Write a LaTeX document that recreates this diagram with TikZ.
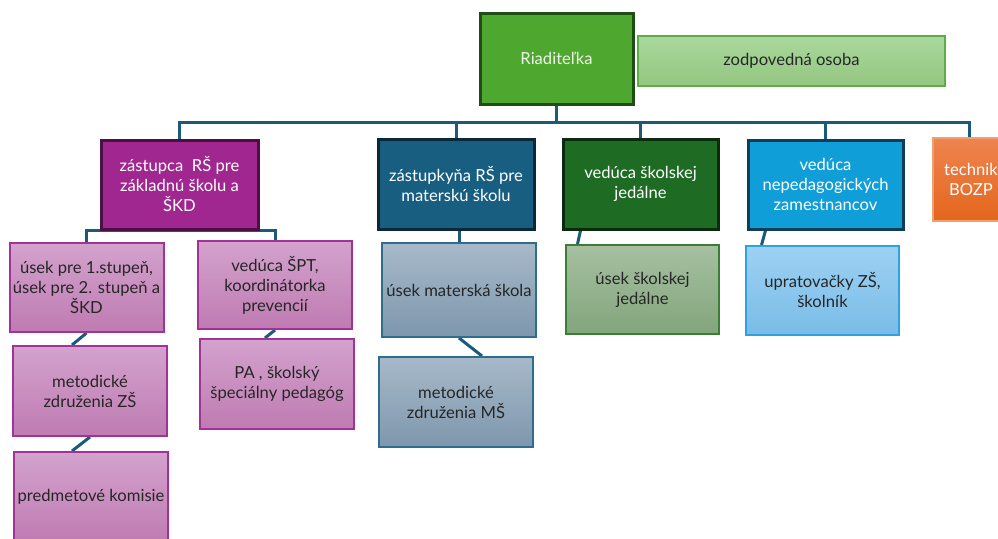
\documentclass[tikz,border=0pt]{standalone}
\usepackage{fontspec}
\setmainfont{Lato}
\usetikzlibrary{backgrounds}
\definecolor{conn}{HTML}{1B5A78}
\definecolor{rfill}{HTML}{4EA72E}\definecolor{rdraw}{HTML}{1F4E15}\definecolor{rtext}{HTML}{EEF5E8}
\definecolor{ztop}{HTML}{AAD89D}\definecolor{zbot}{HTML}{93C680}\definecolor{zdraw}{HTML}{5DAF45}
\definecolor{pfill}{HTML}{A0278F}\definecolor{pdraw}{HTML}{4B0F43}
\definecolor{qfill}{HTML}{175E81}\definecolor{qdraw}{HTML}{0A2838}
\definecolor{jfill}{HTML}{1E6B24}\definecolor{jdraw}{HTML}{0B2B0E}
\definecolor{nfill}{HTML}{109ED8}\definecolor{ndraw}{HTML}{0C3E57}
\definecolor{ttop}{HTML}{EE8450}\definecolor{tbot}{HTML}{E4661C}\definecolor{tdraw}{HTML}{F0A070}
\definecolor{pltop}{HTML}{D3A2CD}\definecolor{plbot}{HTML}{BF7BB2}\definecolor{pldraw}{HTML}{A1329A}
\definecolor{bltop}{HTML}{A7B9C9}\definecolor{blbot}{HTML}{7E97AD}\definecolor{bldraw}{HTML}{2D6D8E}
\definecolor{gltop}{HTML}{A6C0A1}\definecolor{glbot}{HTML}{82A57C}\definecolor{gldraw}{HTML}{3A7F33}
\definecolor{cltop}{HTML}{9DD1F3}\definecolor{clbot}{HTML}{79BCE7}\definecolor{cldraw}{HTML}{2EA3DF}
\tikzset{
  box/.style={rectangle, inner sep=1pt, align=center, font=\fontsize{16.6}{20}\selectfont},
  darkbox/.style={box, line width=3pt, text=white},
  lightbox/.style={box, line width=2pt, text=black!85},
  link/.style={draw=conn, line width=3pt},
  pl/.style={lightbox, top color=pltop, bottom color=plbot, draw=pldraw, minimum width=154pt, minimum height=89pt},
  bl/.style={lightbox, top color=bltop, bottom color=blbot, draw=bldraw, minimum width=154pt},
}
\begin{document}
\begin{tikzpicture}[x=1pt,y=-1pt]
\useasboundingbox (0,0) rectangle (998,538);
\clip (0,0) rectangle (998,538);
% top
\node[darkbox, fill=rfill, draw=rdraw, text=rtext, minimum width=153pt, minimum height=91pt] (r) at (556.5,58.5) {Riaditeľka};
\node[lightbox, top color=ztop, bottom color=zbot, draw=zdraw, minimum width=307pt, minimum height=50pt] (z) at (791.5,61) {zodpovedná osoba};
% level 1
\node[darkbox, fill=pfill, draw=pdraw, minimum width=157pt, minimum height=89pt] (p) at (179.5,184.5) {zástupca~ RŠ pre\\základnú školu a\\ŠKD};
\node[darkbox, fill=qfill, draw=qdraw, minimum width=156pt, minimum height=90pt] (q) at (456,184) {zástupkyňa RŠ pre\\materskú školu};
\node[darkbox, fill=jfill, draw=jdraw, minimum width=155pt, minimum height=90pt] (j) at (640.5,184) {vedúca školskej\\jedálne};
\node[darkbox, fill=nfill, draw=ndraw, minimum width=155pt, minimum height=89pt] (n) at (825.5,184.5) {vedúca\\nepedagogických\\zamestnancov};
\node[box, line width=2pt, text=white, top color=ttop, bottom color=tbot, draw=tdraw, minimum width=76pt, minimum height=83pt] (t) at (971,179.5) {technik\\BOZP};
% purple branch
\node[pl] (u1) at (86.5,287.5) {úsek pre 1.stupeň,\\úsek pre 2. stupeň a\\ŠKD};
\node[pl, minimum height=88pt] (v1) at (275,285) {vedúca ŠPT,\\koordinátorka\\prevencií};
\node[pl, minimum height=90pt] (m1) at (90,391) {metodické\\združenia ZŠ};
\node[pl, minimum height=90pt] (pk) at (91,497) {predmetové komisie};
\node[pl, minimum height=90pt] (pa) at (277,384) {PA , školský\\špeciálny pedagóg};
% blue branch
\node[bl, minimum height=94pt] (um) at (459,290) {úsek materská škola};
\node[bl, minimum height=90pt] (mm) at (456,402) {metodické\\združenia MŠ};
% green branch
\node[lightbox, top color=gltop, bottom color=glbot, draw=gldraw, minimum width=153pt, minimum height=89pt] (uj) at (642.5,289.5) {úsek školskej\\jedálne};
% light blue branch
\node[lightbox, top color=cltop, bottom color=clbot, draw=cldraw, minimum width=153pt, minimum height=89pt] (un) at (822.5,290.5) {upratovačky ZŠ,\\školník};
% connectors
\begin{scope}[on background layer]
\foreach \c in {p,q,j,n} \draw[link] (r.south) -- ++(0,16.5) -| (\c.north);
\draw[link] (r.south) -- ++(0,16.5) -| ([xshift=-2pt]t.north);
\draw[link] (p.south) -| (u1.north);
\draw[link] (p.south) -| (v1.north);
\draw[link] (u1.south) -- ([xshift=-18pt]m1.north);
\draw[link] (m1.south) -- ([xshift=-19pt]pk.north);
\draw[link] (v1.south) -- ([xshift=-12pt]pa.north);
\draw[link] ([xshift=3pt]q.south) -- (um.north);
\draw[link] (um.south) -- ([xshift=26pt]mm.north);
\draw[link] ([xshift=-60pt]j.south) -- ([xshift=-65pt]uj.north);
\draw[link] ([xshift=-60pt]n.south) -- ([xshift=-61pt]un.north);
\end{scope}
\end{tikzpicture}
\end{document}
